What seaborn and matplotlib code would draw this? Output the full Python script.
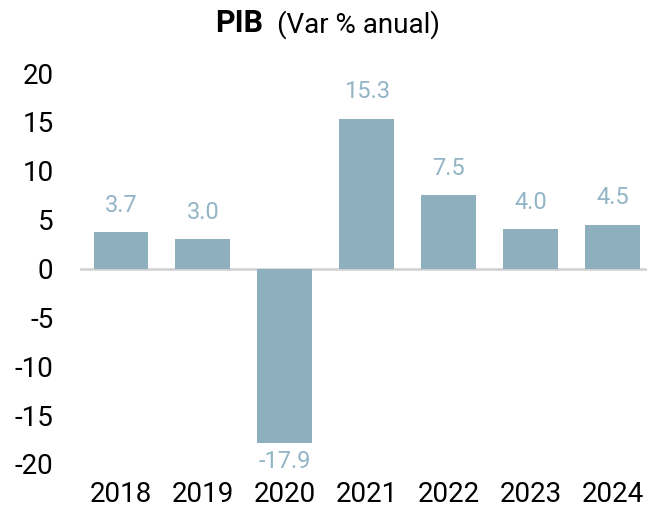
import matplotlib
matplotlib.use("Agg")
import matplotlib.pyplot as plt
import seaborn as sns
import pandas as pd

anos = ["2018", "2019", "2020", "2021", "2022", "2023", "2024"]
pib_var = [3.7, 3.0, -17.9, 15.3, 7.5, 4.0, 4.5]

cor_barra = "#8EAFBE"
cor_rotulo = "#93B5C6"

sns.set_style("white")
plt.rcParams["font.family"] = ["Roboto", "DejaVu Sans"]
plt.rcParams["axes.unicode_minus"] = False
plt.rcParams["text.color"] = "black"
plt.rcParams["xtick.color"] = "black"
plt.rcParams["ytick.color"] = "black"

df = pd.DataFrame({"ano": anos, "var": pib_var})

fig = plt.figure(figsize=(6.49, 5.14), dpi=100)
ax = fig.add_axes([80 / 649, 1 - 464 / 514, 567 / 649, (464 - 73) / 514])

sns.barplot(data=df, x="ano", y="var", color=cor_barra, saturation=1, width=0.67,
            linewidth=0, ax=ax)

ax.axhline(0, color="#D0D0D0", lw=1.8, zorder=0)

for i, v in enumerate(pib_var):
    if v >= 0:
        ax.text(i, v + 1.6, f"{v:.1f}", ha="center", va="bottom", color=cor_rotulo, fontsize=17)
    else:
        ax.text(i, v - 0.7, f"{v:.1f}", ha="center", va="top", color=cor_rotulo, fontsize=17)

ax.set_ylim(-20, 20)
ax.set_xlim(-0.5, 6.42)
ax.set_yticks(range(-20, 21, 5))
ax.tick_params(axis="y", labelsize=20, length=0, pad=19)
ax.tick_params(axis="x", labelsize=20, length=0, pad=12)
ax.set_xlabel("")
ax.set_ylabel("")
sns.despine(ax=ax, left=True, bottom=True)

fig.text(0.405, 0.955, "PIB", ha="right", va="center", fontsize=22, fontweight="bold")
fig.text(0.427, 0.953, "(Var % anual)", ha="left", va="center", fontsize=20)

fig.savefig("out.png", dpi=100)
